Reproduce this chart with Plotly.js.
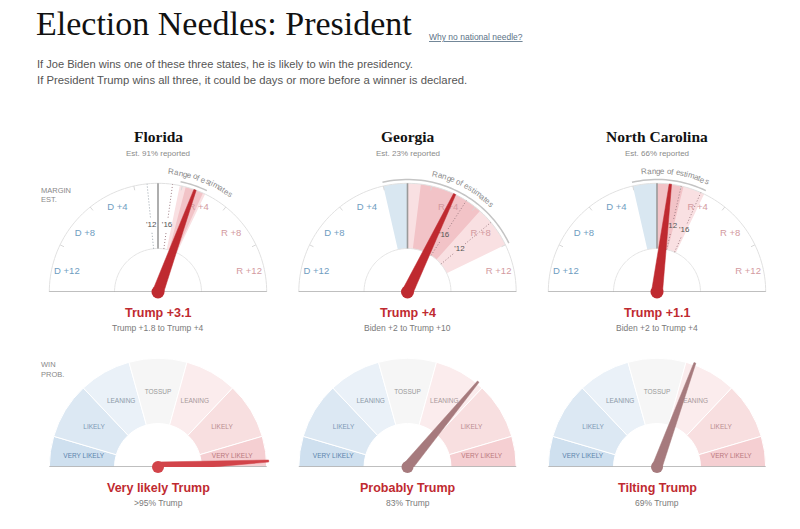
<!DOCTYPE html>
<html><head><meta charset="utf-8">
<script src="https://cdn.plot.ly/plotly-3.0.1.min.js"></script>
<style>html,body{margin:0;padding:0;background:#fff}#chart{width:800px;height:529px}</style>
</head><body><div id="chart"></div>
<script>
// ---------- DATA ----------
const states = ["Florida", "Georgia", "North Carolina"];
const reportedPct = [91, 23, 66];
const marginEst = [3.1, 4, 1.1];          // + = Trump, - = Biden
const rangeLow = [1.8, -2, -2];
const rangeHigh = [4, 10, 4];
const coreLow = [2.3, 1.1, 0];
const coreHigh = [3.8, 6.5, 2.2];
const result2012 = [-0.9, 7.8, 2.0];
const result2016 = [1.2, 5.1, 3.7];
const winProbTrump = [97, 83, 69];
const winProbText = [">95% Trump", "83% Trump", "69% Trump"];
const verdictText = ["Very likely Trump", "Probably Trump", "Tilting Trump"];
const marginTickValues = [-12, -8, -4, 4, 8, 12];
const marginTickLabels = ["D +12", "D +8", "D +4", "R +4", "R +8", "R +12"];
const minorTickValues = [-10, -6, -2, 2, 6, 10];
const probCategories = ["VERY LIKELY", "LIKELY", "LEANING", "TOSSUP", "LEANING", "LIKELY", "VERY LIKELY"];
const probBounds = [0, 5, 15, 35, 65, 85, 95, 100];

// ---------- STYLE / GEOMETRY ----------
const W = 800, H = 529;
const CX = [158, 407.5, 657];
const CY_TOP = 292, CY_BOT = 467;
const R_OUT = 125, R_MAX = 1.15, PX = R_OUT / R_MAX, HOLE = 0.4;
const MAXM = 14, PROB_SCALE = 25;
const SANS = '"Liberation Sans", Arial, sans-serif';
const SERIF = '"Liberation Serif", "Times New Roman", serif';
const RED = '#bf2a30';
const mTheta = m => m / MAXM * 90;
const pTheta = p => Math.max(-90, Math.min(90, PROB_SCALE * Math.log(p / (100 - p))));
const fmtMargin = v => (v >= 0 ? "Trump +" : "Biden +") + Math.abs(v);
const bandColors = {dem: '#d9e7f1', light: '#f9e0e2', core: '#f2c3c7'};
const probColors = ['#cfe0ef', '#dce8f3', '#eaf1f8', '#f6f6f6', '#fbeced', '#f8dfe0', '#f5cfd2'];
const probLabelColors = ['#5c84ad', '#7c98b5', '#8c9aa8', '#999999', '#a8999b', '#b88c90', '#b9777d'];
const subName = k => k === 0 ? 'polar' : 'polar' + (k + 1);

const traces = [];
const layout = {
  width: W, height: H, margin: {l: 0, r: 0, t: 0, b: 0},
  paper_bgcolor: '#fff', showlegend: false, font: {family: SANS}, annotations: []
};

function polarLayout(cx, cy) {
  return {
    domain: {x: [(cx - R_OUT) / W, (cx + R_OUT) / W], y: [1 - cy / H, 1 - (cy - R_OUT) / H]},
    sector: [0, 180], hole: 0, bgcolor: 'rgba(0,0,0,0)', barmode: 'overlay',
    radialaxis: {visible: false, range: [0, R_MAX], showgrid: false, showline: false, showticklabels: false, ticks: ''},
    angularaxis: {visible: false, rotation: 90, direction: 'clockwise', showgrid: false, showline: false, showticklabels: false, ticks: ''}
  };
}
function sp(sub, r, theta, extra) {
  traces.push(Object.assign({type: 'scatterpolar', subplot: sub, r: r, theta: theta, mode: 'lines',
    hoverinfo: 'skip', cliponaxis: false}, extra));
}
function arc(sub, r, t0, t1, line) {
  const rr = [], tt = [], n = Math.max(2, Math.ceil(Math.abs(t1 - t0) / 2));
  for (let i = 0; i <= n; i++) { rr.push(r); tt.push(t0 + (t1 - t0) * i / n); }
  sp(sub, rr, tt, {line: line});
}
function needle(sub, th, len, wb, wt, color, dot) {
  const rb = wb / PX, at = Math.atan(wt / (len * PX)) * 180 / Math.PI;
  const rt = Math.sqrt(len * len + (wt / PX) ** 2);
  sp(sub, [rb, rt, rt, rb, rb], [th - 90, th - at, th + at, th + 90, th - 90],
     {fill: 'toself', fillcolor: color, line: {color: color, width: 0.5}});
  sp(sub, [0], [0], {mode: 'markers', marker: {size: dot, color: color}});
}
function ann(text, x, y, size, color, o) {
  layout.annotations.push(Object.assign({text: text, x: x / W, y: 1 - y / H, xref: 'paper', yref: 'paper',
    showarrow: false, xanchor: 'center', yanchor: 'middle', font: {size: size, color: color, family: SANS}}, o || {}));
}
const ctx = document.createElement('canvas').getContext('2d');
function curvedText(text, cx, cy, rpx, centerDeg, size, color) {
  ctx.font = size + 'px "Liberation Sans"';
  const ws = [...text].map(c => ctx.measureText(c).width);
  const total = ws.reduce((a, b) => a + b, 0);
  let cum = 0;
  const start = centerDeg * Math.PI / 180 - (total / 2) / rpx;
  [...text].forEach((c, i) => {
    const a = start + (cum + ws[i] / 2) / rpx;
    cum += ws[i];
    if (c === ' ') return;
    ann(c, cx + rpx * Math.sin(a), cy - rpx * Math.cos(a), size, color, {textangle: a * 180 / Math.PI, borderpad: 0});
  });
}

// ---------- TOP GAUGES (margin estimate) ----------
states.forEach((st, i) => {
  const sub = subName(i);
  layout[sub] = polarLayout(CX[i], CY_TOP);
  const bands = [];
  if (rangeLow[i] < 0) bands.push([rangeLow[i], Math.min(0, rangeHigh[i]), bandColors.dem]);
  bands.push([Math.max(0, rangeLow[i]), rangeHigh[i], bandColors.light]);
  bands.push([coreLow[i], coreHigh[i], bandColors.core]);
  traces.push({type: 'barpolar', subplot: sub, hoverinfo: 'skip',
    theta: bands.map(b => (mTheta(b[0]) + mTheta(b[1])) / 2),
    width: bands.map(b => mTheta(b[1]) - mTheta(b[0])),
    r: bands.map(() => 1 - HOLE), base: bands.map(() => HOLE),
    marker: {color: bands.map(b => b[2]), line: {width: 0}}});
  arc(sub, 1, -90, 90, {color: '#e1e1e1', width: 1});
  arc(sub, HOLE, -90, 90, {color: '#e4e4e4', width: 1});
  const tr = [], tt = [];
  minorTickValues.forEach(v => { tr.push(0.96, 1, null); tt.push(mTheta(v), mTheta(v), null); });
  sp(sub, tr, tt, {line: {color: '#d8d8d8', width: 1}});
  sp(sub, [HOLE, 1], [0, 0], {line: {color: '#9a9a9a', width: 1.6}});
  [[result2012[i], "'12"], [result2016[i], "'16"]].forEach(([v, lab]) => {
    sp(sub, [HOLE, 0.555, null, 0.69, 1], [mTheta(v), mTheta(v), null, mTheta(v), mTheta(v)],
       {line: {color: v > 0.5 ? '#a07f85' : '#9aa3ab', width: 1, dash: '1px,2px'}});
    sp(sub, [0.622], [mTheta(v)], {mode: 'text', text: [lab], textposition: 'middle center',
       textfont: {size: 8, color: '#555', family: SANS}});
  });
  sp(sub, marginTickValues.map(() => 0.86), marginTickValues.map(mTheta), {mode: 'text',
     text: marginTickLabels, textposition: 'middle center',
     textfont: {size: 9.5, family: SANS, color: marginTickValues.map(v => v < 0 ? '#6f9dbf' : '#d39aa0')}});
  sp(sub, [1, 0, 1], [-90, 0, 90], {line: {color: '#aaaaaa', width: 1.6}});
  arc(sub, 1.035, mTheta(rangeLow[i]), mTheta(rangeHigh[i]), {color: '#c4c4c4', width: 1.5});
  needle(sub, mTheta(marginEst[i]), 1.0, 5.5, 1.2, RED, 13);

  curvedText('Range of estimates', CX[i], CY_TOP, 121,
    (mTheta(rangeLow[i]) + mTheta(rangeHigh[i])) / 2 + 2.5, 8, '#8a8a8a');

  ann('<b>' + st + '</b>', CX[i], 136, 15.5, '#121212', {font: {size: 15.5, color: '#121212', family: SERIF}});
  ann('Est. ' + reportedPct[i] + '% reported', CX[i], 153.5, 8, '#8a8a8a');
  ann('<b>' + fmtMargin(marginEst[i]) + '</b>', CX[i], 313, 12.5, RED);
  ann(fmtMargin(rangeLow[i]) + ' to ' + fmtMargin(rangeHigh[i]), CX[i], 327.5, 8.5, '#7a7a7a');
});

// ---------- BOTTOM GAUGES (win probability) ----------
states.forEach((st, i) => {
  const sub = 'polar' + (i + 4);
  layout[sub] = polarLayout(CX[i], CY_BOT);
  const th = probBounds.map(pTheta);
  traces.push({type: 'barpolar', subplot: sub, hoverinfo: 'skip',
    theta: probCategories.map((c, k) => (th[k] + th[k + 1]) / 2),
    width: probCategories.map((c, k) => th[k + 1] - th[k]),
    r: probCategories.map(() => 1 - HOLE), base: probCategories.map(() => HOLE),
    marker: {color: probColors, line: {color: '#ffffff', width: 1}}});
  sp(sub, probCategories.map(() => 0.69), probCategories.map((c, k) => (th[k] + th[k + 1]) / 2),
     {mode: 'text', text: probCategories, textposition: 'middle center',
      textfont: {size: 6.5, family: SANS, color: probLabelColors}});
  sp(sub, [1, 0, 1], [-90, 0, 90], {line: {color: '#aaaaaa', width: 1.6}});
  const col = winProbTrump[i] >= 95 ? '#d2444a' : '#a67a7d';
  needle(sub, pTheta(winProbTrump[i]), 1.02, 5, 1, col, 12);

  ann('<b>' + verdictText[i] + '</b>', CX[i], 487.5, 12.5, RED);
  ann(winProbText[i], CX[i], 503, 8.5, '#7a7a7a');
});

// ---------- HEADER ----------
ann('Election Needles: President', 34, 24, 34, '#111', {xanchor: 'left', font: {size: 34, color: '#111', family: SERIF}});
ann('<span style="text-decoration:underline">Why no national needle?</span>', 427, 37, 8.5, '#5b7387', {xanchor: 'left'});
ann('If Joe Biden wins one of these three states, he is likely to win the presidency.', 35, 64, 11.1, '#555', {xanchor: 'left'});
ann('If President Trump wins all three, it could be days or more before a winner is declared.', 35, 80, 11.3, '#555', {xanchor: 'left'});
ann('MARGIN', 39, 190, 7.5, '#888', {xanchor: 'left'});
ann('EST.', 39, 199.5, 7.5, '#888', {xanchor: 'left'});
ann('WIN', 39, 364, 7.5, '#888', {xanchor: 'left'});
ann('PROB.', 39, 374, 7.5, '#888', {xanchor: 'left'});

Plotly.newPlot('chart', traces, layout, {staticPlot: true, displayModeBar: false});
</script></body></html>
